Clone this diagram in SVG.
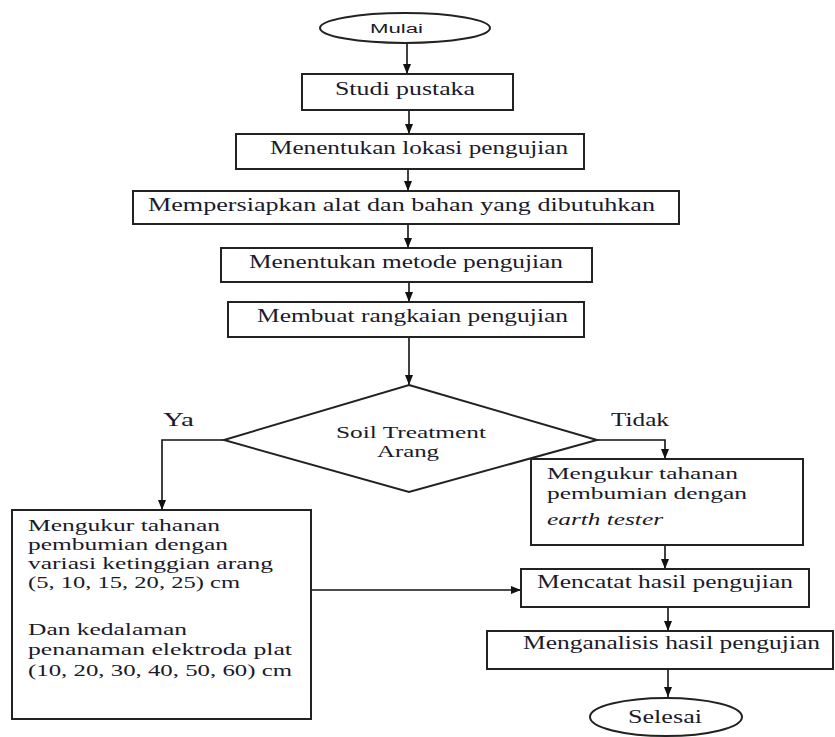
<svg xmlns="http://www.w3.org/2000/svg" width="835" height="737" viewBox="0 0 835 737">
<style>
.box{fill:#fff;stroke:#222;stroke-width:2}
.t{font-family:"Liberation Serif","Times New Roman",serif;font-size:18px;fill:#1a1a2a}
.m{font-size:16px}
.s{font-family:"Liberation Sans",Arial,sans-serif;font-size:12px;fill:#1a1a2a}
.c{fill:none;stroke:#111;stroke-width:1.6}
</style>
<defs>
<marker id="ah" markerUnits="userSpaceOnUse" markerWidth="10" markerHeight="10" viewBox="0 0 10 10" refX="10" refY="5" orient="auto">
<path d="M0,1 L10,5 L0,9 Z" fill="#111"/>
</marker>
</defs>
<rect width="835" height="737" fill="#fff"/>
<g id="connectors">
<path class="c" d="M407,43 V74" marker-end="url(#ah)"/>
<path class="c" d="M409,110 V134" marker-end="url(#ah)"/>
<path class="c" d="M408,169 V191" marker-end="url(#ah)"/>
<path class="c" d="M408,224 V248" marker-end="url(#ah)"/>
<path class="c" d="M409,282 V302" marker-end="url(#ah)"/>
<path class="c" d="M409,337 V385" marker-end="url(#ah)"/>
<path class="c" d="M224,440 H162 V510" marker-end="url(#ah)"/>
<path class="c" d="M597,440 H665 V459" marker-end="url(#ah)"/>
<path class="c" d="M665,545 V569" marker-end="url(#ah)"/>
<path class="c" d="M311,590 H521" marker-end="url(#ah)"/>
<path class="c" d="M668,607 V631" marker-end="url(#ah)"/>
<path class="c" d="M668,669 V697" marker-end="url(#ah)"/>
</g>
<g id="mulai">
<ellipse class="box" cx="405" cy="28" rx="85" ry="15" stroke-width="1.5"/>
<text class="s" x="370" y="33" textLength="53" lengthAdjust="spacingAndGlyphs">Mulai</text>
</g>
<g id="studi">
<rect class="box" x="302" y="74" width="211" height="36"/>
<text class="t" x="335" y="95" textLength="140" lengthAdjust="spacingAndGlyphs">Studi pustaka</text>
</g>
<g id="lokasi">
<rect class="box" x="236" y="134" width="348" height="35"/>
<text class="t" x="270" y="154" textLength="298" lengthAdjust="spacingAndGlyphs">Menentukan lokasi pengujian</text>
</g>
<g id="persiapan">
<rect class="box" x="133" y="191" width="546" height="33"/>
<text class="t" x="148" y="211" textLength="507" lengthAdjust="spacingAndGlyphs">Mempersiapkan alat dan bahan yang dibutuhkan</text>
</g>
<g id="metode">
<rect class="box" x="221" y="248" width="371" height="34"/>
<text class="t" x="249" y="268" textLength="314" lengthAdjust="spacingAndGlyphs">Menentukan metode pengujian</text>
</g>
<g id="rangkaian">
<rect class="box" x="228" y="302" width="356" height="35"/>
<text class="t" x="257" y="322" textLength="311" lengthAdjust="spacingAndGlyphs">Membuat rangkaian pengujian</text>
</g>
<g id="keputusan">
<polygon class="box" stroke-width="1.6" points="409,385 597,440 409,492 224,440"/>
<text class="t m" x="336" y="438" textLength="150" lengthAdjust="spacingAndGlyphs">Soil Treatment</text>
<text class="t m" x="377" y="457" textLength="62" lengthAdjust="spacingAndGlyphs">Arang</text>
<text class="t" x="163" y="426" textLength="31" lengthAdjust="spacingAndGlyphs">Ya</text>
<text class="t" x="611" y="426" textLength="58" lengthAdjust="spacingAndGlyphs">Tidak</text>
</g>
<g id="ukur-arang">
<rect class="box" x="12" y="510" width="299" height="209"/>
<text class="t m" x="28" y="531" textLength="192" lengthAdjust="spacingAndGlyphs">Mengukur tahanan</text>
<text class="t m" x="28" y="550" textLength="200" lengthAdjust="spacingAndGlyphs">pembumian dengan</text>
<text class="t m" x="28" y="569" textLength="245" lengthAdjust="spacingAndGlyphs">variasi ketinggian arang</text>
<text class="t m" x="28" y="588" textLength="212" lengthAdjust="spacingAndGlyphs">(5, 10, 15, 20, 25) cm</text>
<text class="t m" x="28" y="635" textLength="159" lengthAdjust="spacingAndGlyphs">Dan kedalaman</text>
<text class="t m" x="28" y="655" textLength="264" lengthAdjust="spacingAndGlyphs">penanaman elektroda plat</text>
<text class="t m" x="28" y="676" textLength="264" lengthAdjust="spacingAndGlyphs">(10, 20, 30, 40, 50, 60) cm</text>
</g>
<g id="ukur-tester">
<rect class="box" x="531" y="459" width="272" height="86"/>
<text class="t m" x="547" y="479" textLength="191" lengthAdjust="spacingAndGlyphs">Mengukur tahanan</text>
<text class="t m" x="547" y="499" textLength="200" lengthAdjust="spacingAndGlyphs">pembumian dengan</text>
<text class="t m" x="547" y="525" font-style="italic" textLength="116" lengthAdjust="spacingAndGlyphs">earth tester</text>
</g>
<g id="mencatat">
<rect class="box" x="521" y="569" width="288" height="38"/>
<text class="t" x="537" y="588" textLength="256" lengthAdjust="spacingAndGlyphs">Mencatat hasil pengujian</text>
</g>
<g id="analisis">
<rect class="box" x="487" y="631" width="346" height="38"/>
<text class="t" x="523" y="649" textLength="297" lengthAdjust="spacingAndGlyphs">Menganalisis hasil pengujian</text>
</g>
<g id="selesai">
<ellipse class="box" cx="666" cy="717" rx="76" ry="19" stroke-width="1.5"/>
<text class="t" x="628" y="723" textLength="74" lengthAdjust="spacingAndGlyphs">Selesai</text>
</g>
</svg>
